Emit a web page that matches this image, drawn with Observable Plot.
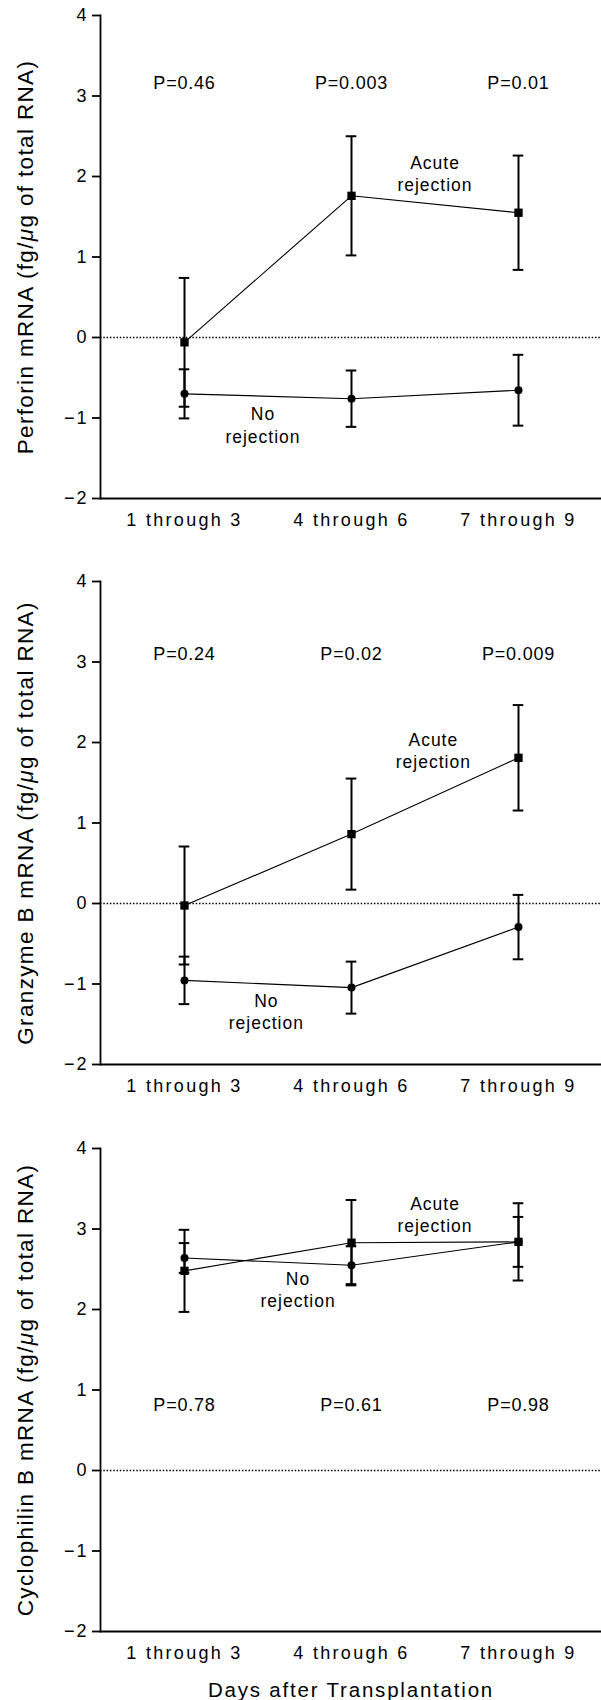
<!DOCTYPE html>
<html><head><meta charset="utf-8">
<script src="https://cdn.jsdelivr.net/npm/d3@7"></script>
<script src="https://cdn.jsdelivr.net/npm/@observablehq/plot@0.6"></script>
<style>
html,body{margin:0;padding:0;background:#fff;}
#chart{width:601px;}
#chart svg{display:block;}
g[aria-label="x-axis tick label"] text{letter-spacing:2.3px;}
g[aria-label="y-axis tick label"] text{letter-spacing:2px;}
</style>
</head><body><div id="chart"></div>
<script>
// ---- data ----
const categories = ["1 through 3", "4 through 6", "7 through 9"];
const yTicks = [-2, -1, 0, 1, 2, 3, 4];
const xTitle = "Days after Transplantation";

const perforinTitle = "Perforin mRNA (fg/μg of total RNA)";
const perforinAcuteMean = [-0.06, 1.76, 1.55];
const perforinAcuteErr  = [0.80, 0.74, 0.71];
const perforinNoMean    = [-0.70, -0.76, -0.655];
const perforinNoErr     = [0.305, 0.35, 0.44];
const perforinP         = ["P=0.46", "P=0.003", "P=0.01"];

const granzymeTitle = "Granzyme B mRNA (fg/μg of total RNA)";
const granzymeAcuteMean = [-0.025, 0.862, 1.81];
const granzymeAcuteErr  = [0.733, 0.69, 0.655];
const granzymeNoMean    = [-0.955, -1.045, -0.293];
const granzymeNoErr     = [0.295, 0.323, 0.40];
const granzymeP         = ["P=0.24", "P=0.02", "P=0.009"];

const cyclophilinTitle = "Cyclophilin B mRNA (fg/μg of total RNA)";
const cyclophilinAcuteMean = [2.48, 2.83, 2.84];
const cyclophilinAcuteErr  = [0.51, 0.53, 0.48];
const cyclophilinNoMean    = [2.64, 2.55, 2.84];
const cyclophilinNoErr     = [0.185, 0.235, 0.31];
const cyclophilinP         = ["P=0.78", "P=0.61", "P=0.98"];

const acuteLabel = "Acute\nrejection";
const noLabel = "No\nrejection";

// ---- drawing ----
const W = 601, ML = 100, MR = 0;
const step = (W - ML - MR) / categories.length;
const font = "'Liberation Sans', Arial, Helvetica, sans-serif";

function rowsFor(mean, err, group) {
  return categories.map((c, i) => ({cat: c, group, mean: mean[i], lo: mean[i] - err[i], hi: mean[i] + err[i]}));
}

function panel(o) {
  const acute = rowsFor(o.acuteMean, o.acuteErr, "acute");
  const none = rowsFor(o.noMean, o.noErr, "none");
  const rows = [...acute, ...none];
  const marks = [
    Plot.ruleY([0], {strokeDasharray: "1.5,1.8", strokeWidth: 1.4}),
    Plot.ruleY([yTicks[0]], {strokeWidth: 1.8}),
    Plot.frame({anchor: "left", strokeWidth: 1.8}),
    Plot.axisY({ticks: yTicks, tickFormat: "d", tickSize: 8, tickPadding: 4, strokeWidth: 1.8, fontSize: 18, label: null}),
    Plot.axisX({tickSize: 0, tickPadding: 15, fontSize: 18, label: null}),
    Plot.text([o.yTitle], {frameAnchor: "left", rotate: -90, dx: -75, fontSize: 22.5, lineAnchor: "middle", textAnchor: "middle"}),
    Plot.ruleX(rows, {x: "cat", y1: "lo", y2: "hi", strokeWidth: 2}),
    Plot.ruleY(rows, {x1: "cat", x2: "cat", y: "hi", insetLeft: -5.3, insetRight: -5.3, strokeWidth: 2}),
    Plot.ruleY(rows, {x1: "cat", x2: "cat", y: "lo", insetLeft: -5.3, insetRight: -5.3, strokeWidth: 2}),
    Plot.line(rows, {x: "cat", y: "mean", z: "group", strokeWidth: 1.1}),
    Plot.dot(none, {x: "cat", y: "mean", r: 4, fill: "black", stroke: null}),
    Plot.dot(acute, {x: "cat", y: "mean", symbol: "square", r: 4.7, fill: "black", stroke: null}),
    Plot.text(o.p, {x: (d, i) => categories[i], y: o.pY, fontSize: 18, lineAnchor: "middle"}),
    Plot.text([acuteLabel], {x: () => categories[o.acutePos[0]], y: o.acutePos[2], dx: o.acutePos[1] * step, fontSize: 17.5, lineHeight: 1.26, lineAnchor: "middle"}),
    Plot.text([noLabel], {x: () => categories[o.noPos[0]], y: o.noPos[2], dx: o.noPos[1] * step, fontSize: 17.5, lineHeight: 1.26, lineAnchor: "middle"})
  ];
  if (o.xTitle) marks.push(Plot.text([o.xTitle], {frameAnchor: "bottom", dy: 59, fontSize: 20.5, lineAnchor: "middle"}));
  const svg = Plot.plot({
    width: W, height: o.height,
    marginLeft: ML, marginRight: MR, marginTop: o.mt, marginBottom: o.mb,
    style: {fontFamily: font, color: "black", background: "white", overflow: "visible"},
    x: {type: "point", domain: categories, padding: 0.5, axis: null},
    y: {domain: [yTicks[0], yTicks[yTicks.length - 1]], axis: null},
    marks
  });
  // letter spacing by text role (matches the tracked lettering of the original figure)
  svg.querySelectorAll("text").forEach(t => {
    const s = t.textContent;
    if (o.p.includes(s)) t.style.letterSpacing = "0.8px";
    else if (s === o.yTitle) t.style.letterSpacing = "1.35px";
    else if (s === xTitle) t.style.letterSpacing = "1.8px";
    else if (acuteLabel.split("\n").join("") === s || noLabel.split("\n").join("") === s) t.style.letterSpacing = "1px";
  });
  svg.querySelectorAll("tspan").forEach(t => {
    const s = t.textContent;
    if ([...acuteLabel.split("\n"), ...noLabel.split("\n")].includes(s)) t.parentNode.style.letterSpacing = "1px";
  });
  // italic mu in the y title
  svg.querySelectorAll("text").forEach(t => {
    const s = t.textContent;
    if (s !== o.yTitle) return;
    const k = s.indexOf("μ");
    if (k >= 0) {
      t.textContent = "";
      const ns = "http://www.w3.org/2000/svg";
      const a = document.createElementNS(ns, "tspan"); a.textContent = s.slice(0, k);
      const b = document.createElementNS(ns, "tspan"); b.textContent = "μ"; b.setAttribute("font-style", "italic");
      const c = document.createElementNS(ns, "tspan"); c.textContent = s.slice(k + 1);
      t.append(a, b, c);
    }
  });
  return svg;
}

const chart = document.getElementById("chart");
chart.append(panel({
  height: 560, mt: 15, mb: 62, yTitle: perforinTitle,
  acuteMean: perforinAcuteMean, acuteErr: perforinAcuteErr, noMean: perforinNoMean, noErr: perforinNoErr,
  p: perforinP, pY: 3.16, acutePos: [1, 0.5, 2.05], noPos: [0, 0.47, -1.08]
}));
chart.append(panel({
  height: 570, mt: 21, mb: 66, yTitle: granzymeTitle,
  acuteMean: granzymeAcuteMean, acuteErr: granzymeAcuteErr, noMean: granzymeNoMean, noErr: granzymeNoErr,
  p: granzymeP, pY: 3.10, acutePos: [1, 0.49, 1.91], noPos: [0, 0.49, -1.34]
}));
chart.append(panel({
  height: 570, mt: 18, mb: 69, yTitle: cyclophilinTitle, xTitle,
  acuteMean: cyclophilinAcuteMean, acuteErr: cyclophilinAcuteErr, noMean: cyclophilinNoMean, noErr: cyclophilinNoErr,
  p: cyclophilinP, pY: 0.81, acutePos: [1, 0.5, 3.19], noPos: [0, 0.68, 2.26]
}));
</script>
</body></html>
